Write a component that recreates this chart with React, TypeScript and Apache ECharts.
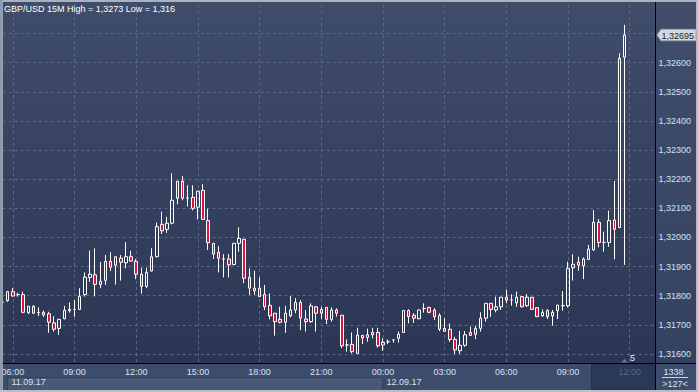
import React, { useEffect, useRef } from 'react';
import * as echarts from 'echarts';

// ---------- data ----------
const symbolName = 'GBP/USD';
const timeframe = '15M';
const dayHigh = '1,3273';
const dayLow = '1,316';
const firstDay = '11.09';
const secondDay = '12.09';
const firstDate = '11.09.17';
const secondDate = '12.09.17';
const startMinutes = 330; // first bar 05:30
const stepMinutes = 15;
const slotCount = 128; // bars + empty shift area on the right
const labelFirstIndex = 2;
const labelEvery = 12;
const shiftValue = '5';
const cornerTop = '1338';
const cornerBottom = '>127<';

const opens = [
  1.31778, 1.31783, 1.31814, 1.31804, 1.31804, 1.31742, 1.31764, 1.31742, 1.31743, 1.31738,
  1.31707, 1.31688, 1.31721, 1.31748, 1.31753, 1.31753, 1.31804, 1.31863, 1.31872, 1.31839,
  1.31853, 1.31918, 1.31905, 1.31929, 1.31913, 1.31934, 1.31918, 1.31874, 1.31832, 1.31885,
  1.31934, 1.32045, 1.32028, 1.32049, 1.32135, 1.32193, 1.32135, 1.32138, 1.32104, 1.32162,
  1.32058, 1.3198, 1.31949, 1.31926, 1.31926, 1.31907, 1.3198, 1.31994, 1.31863, 1.31826,
  1.31826, 1.31805, 1.31767, 1.3174, 1.31719, 1.31709, 1.31731, 1.31751, 1.31777, 1.3172,
  1.31711, 1.31762, 1.3174, 1.3176, 1.31719, 1.31751, 1.31733, 1.31631, 1.31633, 1.31602,
  1.31664, 1.31657, 1.31674, 1.31674, 1.31631, 1.31642, 1.31648, 1.31654, 1.31674, 1.31749,
  1.31733, 1.31721, 1.31756, 1.3176, 1.31751, 1.31733, 1.31688, 1.31685, 1.3165, 1.31611,
  1.3163, 1.31674, 1.31668, 1.31688, 1.31723, 1.31774, 1.31751, 1.31762, 1.31795, 1.31785,
  1.31776, 1.31797, 1.31766, 1.31795, 1.31759, 1.31731, 1.31749, 1.31731, 1.31749, 1.31766,
  1.31766, 1.31896, 1.31915, 1.31903, 1.31925, 1.31957, 1.32052, 1.31983, 1.31983, 1.3206,
  1.32034, 1.32619,
];
const closes = [
  1.31778, 1.31814, 1.31799, 1.31804, 1.31743, 1.31764, 1.3174, 1.31742, 1.31734, 1.31709,
  1.31685, 1.31719, 1.3175, 1.31753, 1.31753, 1.31798, 1.31864, 1.31874, 1.31839, 1.3185,
  1.31918, 1.31898, 1.31934, 1.31915, 1.31934, 1.31919, 1.31874, 1.31832, 1.3188, 1.31934,
  1.32037, 1.32023, 1.32049, 1.32128, 1.32193, 1.32135, 1.32135, 1.321, 1.32159, 1.32062,
  1.31982, 1.31943, 1.31929, 1.31926, 1.31906, 1.3198, 1.31997, 1.3186, 1.31826, 1.31817,
  1.31797, 1.31762, 1.31731, 1.31711, 1.31709, 1.3174, 1.31751, 1.31777, 1.31723, 1.31711,
  1.31765, 1.3174, 1.31753, 1.31719, 1.31751, 1.3174, 1.31628, 1.31631, 1.31608, 1.31665,
  1.31655, 1.31666, 1.31666, 1.31628, 1.3164, 1.31642, 1.31648, 1.31668, 1.31749, 1.31728,
  1.31723, 1.31751, 1.31756, 1.31743, 1.31728, 1.31685, 1.31678, 1.3165, 1.31614, 1.3163,
  1.31666, 1.31664, 1.31688, 1.31723, 1.31774, 1.31753, 1.31762, 1.31795, 1.31785, 1.31785,
  1.31795, 1.31762, 1.31795, 1.31753, 1.31728, 1.31743, 1.31728, 1.31743, 1.31768, 1.31766,
  1.31894, 1.31908, 1.31905, 1.31926, 1.3196, 1.32052, 1.31983, 1.31983, 1.32058, 1.32028,
  1.32615, 1.32695,
];
const lows = [
  1.31777, 1.31779, 1.31797, 1.31797, 1.3174, 1.31737, 1.31737, 1.3173, 1.31728, 1.31673,
  1.31677, 1.31666, 1.31719, 1.31742, 1.31728, 1.31751, 1.31797, 1.31848, 1.31798, 1.31826,
  1.31837, 1.31885, 1.31838, 1.31852, 1.31894, 1.31917, 1.31857, 1.31807, 1.31826, 1.31883,
  1.31932, 1.32012, 1.32016, 1.32045, 1.32114, 1.32128, 1.32106, 1.32093, 1.32062, 1.32062,
  1.31957, 1.31926, 1.3188, 1.31863, 1.31863, 1.31905, 1.31951, 1.31843, 1.31803, 1.31803,
  1.31797, 1.31751, 1.31719, 1.31663, 1.31705, 1.31673, 1.31726, 1.3174, 1.31682, 1.31677,
  1.31707, 1.31677, 1.31721, 1.31703, 1.31711, 1.31728, 1.3162, 1.31608, 1.31602, 1.316,
  1.31634, 1.31642, 1.31654, 1.31622, 1.31611, 1.31634, 1.31639, 1.31639, 1.31673, 1.31705,
  1.31707, 1.31719, 1.31742, 1.3174, 1.31717, 1.31679, 1.31677, 1.31642, 1.316, 1.316,
  1.31625, 1.31662, 1.31651, 1.31677, 1.31711, 1.31728, 1.31743, 1.31751, 1.31774, 1.31766,
  1.31762, 1.3176, 1.31762, 1.31753, 1.31728, 1.31728, 1.3172, 1.31697, 1.3172, 1.31749,
  1.3176, 1.31852, 1.31886, 1.31857, 1.31923, 1.31955, 1.31966, 1.31951, 1.31968, 1.31925,
  1.32034, 1.31906,
];
const highs = [
  1.31779, 1.31816, 1.31826, 1.3181, 1.31814, 1.31765, 1.31767, 1.3176, 1.31749, 1.31745,
  1.3173, 1.31721, 1.31765, 1.31777, 1.31785, 1.31826, 1.3188, 1.31955, 1.31963, 1.31916,
  1.3194, 1.3195, 1.31934, 1.3194, 1.31984, 1.31954, 1.31926, 1.31896, 1.31896, 1.31963,
  1.32051, 1.32089, 1.32071, 1.3222, 1.32193, 1.32211, 1.32179, 1.32179, 1.32159, 1.32183,
  1.32099, 1.3198, 1.3197, 1.31943, 1.31943, 1.3198, 1.32035, 1.31994, 1.31894, 1.31886,
  1.31863, 1.31837, 1.31808, 1.3174, 1.31762, 1.31765, 1.31799, 1.31792, 1.31785, 1.31751,
  1.31774, 1.31765, 1.31762, 1.3176, 1.3176, 1.31757, 1.31733, 1.3165, 1.31674, 1.3169,
  1.31664, 1.31687, 1.3169, 1.3169, 1.31654, 1.3165, 1.3165, 1.31677, 1.31751, 1.31753,
  1.3174, 1.31753, 1.31774, 1.31762, 1.31757, 1.3174, 1.31723, 1.31705, 1.31659, 1.31679,
  1.31679, 1.31694, 1.31697, 1.31743, 1.31774, 1.31774, 1.31797, 1.31795, 1.3182, 1.31805,
  1.31814, 1.31799, 1.31806, 1.31795, 1.31759, 1.31753, 1.31754, 1.31751, 1.31768, 1.31816,
  1.31917, 1.31942, 1.31934, 1.31931, 1.31974, 1.32094, 1.32063, 1.3202, 1.32092, 1.32194,
  1.32632, 1.3273,
];

// ---------- styles ----------
const FONT = '"Liberation Sans", Arial, sans-serif';
const LABEL = '#d6e1f1';
const GRIDLINE = '#58678a';
const BEAR = '#dc143c';

export default function App() {
  const ref = useRef<HTMLDivElement>(null);

  useEffect(() => {
    if (!ref.current) return;
    const W = 698;
    const H = 392;
    const plotL = 2.6;
    const plotR = 655.4;
    const plotT = 5;
    const plotB = 363;

    const chart = echarts.init(ref.current, null, { renderer: 'svg', width: W, height: H });

    const categories = Array.from({ length: slotCount }, (_, i) => {
      const m = startMinutes + stepMinutes * i;
      const day = m >= 1440 ? secondDay : firstDay;
      const mm = m % 1440;
      const hh = String(Math.floor(mm / 60)).padStart(2, '0');
      const mi = String(mm % 60).padStart(2, '0');
      return `${day} ${hh}:${mi}`;
    });
    const data = opens.map((o, i) => [o, closes[i], lows[i], highs[i]]);
    const lastCategory = categories[labelFirstIndex + labelEvery * 10];
    const showTick = (index: number) =>
      index >= labelFirstIndex && (index - labelFirstIndex) % labelEvery === 0 && index <= labelFirstIndex + labelEvery * 10;

    chart.setOption({
      animation: false,
      textStyle: { fontFamily: FONT },
      grid: {
        left: plotL,
        right: W - plotR,
        top: plotT,
        bottom: H - plotB,
        containLabel: false,
        outerBoundsMode: 'none',
      },
      xAxis: {
        type: 'category',
        data: categories,
        boundaryGap: false,
        axisLine: { show: false },
        axisTick: { show: false },
        axisLabel: {
          interval: (index: number) => showTick(index),
          formatter: (v: string) => v.slice(6),
          fontSize: 9,
          fontFamily: FONT,
          margin: 4,
          color: (v: string) => (v === lastCategory ? '#5a6884' : LABEL),
        },
        splitLine: {
          show: true,
          interval: (index: number) => showTick(index),
          lineStyle: { color: GRIDLINE, type: [3, 3], width: 1 },
        },
      },
      yAxis: {
        type: 'value',
        position: 'right',
        scale: true,
        min: 1.315691,
        max: 1.327981,
        splitNumber: 12,
        minInterval: 0.001,
        maxInterval: 0.001,
        axisLine: { show: false },
        axisTick: { show: false },
        axisLabel: {
          margin: 3,
          fontSize: 9,
          fontFamily: FONT,
          color: LABEL,
          showMinLabel: false,
          showMaxLabel: false,
          formatter: (v: number) => (v > 1.3265 ? '' : v.toFixed(5).replace('.', ',')),
        },
        splitLine: {
          show: true,
          showMinLine: false,
          showMaxLine: false,
          lineStyle: { color: GRIDLINE, type: [3, 3], width: 1 },
        },
      },
      series: [
        {
          type: 'candlestick',
          data,
          barWidth: 3,
          clip: true,
          itemStyle: {
            color: 'rgba(0,0,0,0)',
            color0: BEAR,
            borderColor: '#ffffff',
            borderColor0: '#ffffff',
            borderColorDoji: '#ffffff',
            borderWidth: 1,
          },
        },
      ],
    });

    const lastClose = closes[closes.length - 1];
    const tagY = chart.convertToPixel({ yAxisIndex: 0 }, lastClose) as number;
    const lastLabel = lastClose.toFixed(5).replace('.', ',');

    const txt = (x: number, y: number, text: string, fill: string, align = 'left', z = 100) => ({
      type: 'text',
      x,
      y,
      z,
      silent: true,
      style: { text, fill, fontSize: 9, fontFamily: FONT, align, verticalAlign: 'middle' },
    });
    const rect = (x: number, y: number, w: number, h: number, fill: any, z: number, stroke?: string) => ({
      type: 'rect',
      z,
      silent: true,
      shape: { x, y, width: w, height: h },
      style: stroke ? { fill, stroke, lineWidth: 1 } : { fill },
    });
    const grad = (c0: string, c1: string) =>
      new echarts.graphic.LinearGradient(0, 0, 0, 1, [
        { offset: 0, color: c0 },
        { offset: 1, color: c1 },
      ]);

    chart.setOption({
      graphic: [
        // backgrounds
        rect(0, 0, W, H, '#a7afbd', -20),
        rect(3, 2, plotR - 3, plotB - 2, grad('#3f4c6a', '#2b3654'), -10),
        rect(plotR, 2, W - 2 - plotR, plotB - 2, grad('#404e6c', '#35425f'), -10),
        rect(3, plotB, W - 5, H - 2 - plotB, '#3e4c6b', -10),
        rect(7.5, 377.5, 375, 13, '#4a5877', -9, '#34415c'),
        rect(591.5, 364, 63.5, 26, '#2b3856', -9, '#24304a'),
        // borders
        rect(0, 0, W, 2, '#aab2bf', 90),
        rect(0, 0, 2.6, H, '#8e9ab0', 90),
        rect(0, H - 2, W, 2, '#b7bec9', 90),
        rect(W - 2, 0, 2, H, '#b7bec9', 90),
        // separators
        { type: 'line', z: 95, silent: true, shape: { x1: 2.6, y1: plotB + 0.5, x2: W - 2, y2: plotB + 0.5 }, style: { stroke: '#000', lineWidth: 1 } },
        { type: 'line', z: 95, silent: true, shape: { x1: 655.5, y1: 2, x2: 655.5, y2: H - 2 }, style: { stroke: '#000', lineWidth: 1 } },
        // title
        txt(4, 8.5, `${symbolName} ${timeframe} High = ${dayHigh} Low = ${dayLow}`, '#ffffff'),
        // dates
        txt(11.5, 382, firstDate, LABEL),
        txt(386.5, 382, secondDate, LABEL),
        // shift marker
        {
          type: 'polygon',
          z: 96,
          silent: true,
          shape: { points: [[621, 362.5], [624.5, 359], [628, 362.5]] },
          style: { fill: '#6b758b' },
        },
        txt(632.5, 357.5, shiftValue, '#e6edf7', 'center'),
        // bottom-right corner
        txt(673.5, 371.5, cornerTop, LABEL, 'center'),
        { type: 'line', z: 96, silent: true, shape: { x1: 662, y1: 377.5, x2: 688, y2: 377.5 }, style: { stroke: '#c9d3e2', lineWidth: 1 } },
        txt(675, 383.5, cornerBottom, LABEL, 'center'),
        // last price tag
        {
          type: 'polygon',
          z: 97,
          silent: true,
          shape: {
            points: [
              [657, tagY],
              [661, tagY - 5.7],
              [W - 2, tagY - 5.7],
              [W - 2, tagY + 5.7],
              [661, tagY + 5.7],
            ],
          },
          style: { fill: '#d3d7de', stroke: '#9aa2b1', lineWidth: 1 },
        },
        txt(661.5, tagY + 0.5, lastLabel, '#1c1c1c', 'left', 98),
      ],
    });

    return () => chart.dispose();
  }, []);

  return <div ref={ref} style={{ position: 'absolute', left: 0, top: 0, width: 698, height: 392 }} />;
}
